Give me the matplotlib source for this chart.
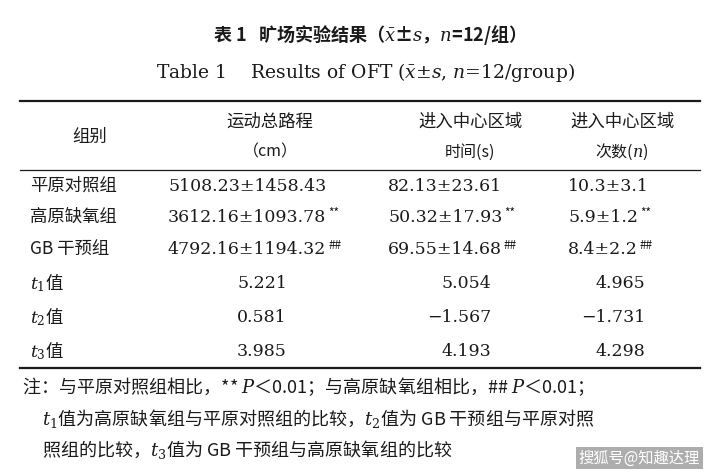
import matplotlib
matplotlib.use("Agg")
import matplotlib.pyplot as plt

plt.rcParams['font.family'] = ['Noto Sans CJK SC', 'DejaVu Sans']
plt.rcParams['mathtext.fontset'] = 'dejavuserif'

title_cn = "表 1   旷场实验结果（$\\bar{x}$±$s$，$n$=12/组）"
title_en = "Table 1    Results of OFT ($\\bar{x}$±$s$, $n$=12/group)"
headers_top = ["组别", "运动总路程", "进入中心区域", "进入中心区域"]
headers_bot = ["", "（cm）", "时间(s)", "次数($n$)"]
row_labels = ["平原对照组", "高原缺氧组", "GB 干预组", "$t_1$值", "$t_2$值", "$t_3$值"]
dist = ["5108.23±1458.43", "3612.16±1093.78", "4792.16±1194.32", "5.221", "0.581", "3.985"]
time_ = ["82.13±23.61", "50.32±17.93", "69.55±14.68", "5.054", "−1.567", "4.193"]
count = ["10.3±3.1", "5.9±1.2", "8.4±2.2", "4.965", "−1.731", "4.298"]
marks = ["", "**", "##", "", "", ""]
notes = ["注：与平原对照组相比，** $P$＜0.01；与高原缺氧组相比，## $P$＜0.01；",
         "$t_1$值为高原缺氧组与平原对照组的比较，$t_2$值为 GB 干预组与平原对照",
         "照组的比较，$t_3$值为 GB 干预组与高原缺氧组的比较"]

fig = plt.figure(figsize=(7.2, 4.73), dpi=100)
ax = fig.add_axes([0, 0, 1, 1])
ax.set_xlim(0, 720); ax.set_ylim(473, 0); ax.axis('off')
c = '#1a1a1a'
ax.text(365, 35, title_cn, ha='center', va='center', fontsize=13, weight='bold', color=c)
ax.text(365, 73, title_en, ha='center', va='center', fontsize=13.5, color=c, family=['DejaVu Serif'])
ax.plot([20, 700], [101, 101], color=c, lw=1.6)
ax.plot([20, 700], [170, 170], color=c, lw=0.9)
ax.plot([20, 700], [368, 368], color=c, lw=1.6)
cx = [90, 270, 470, 622]
for i in range(4):
    if headers_bot[i]:
        ax.text(cx[i], 122, headers_top[i], ha='center', va='center', fontsize=12.5, color=c)
        ax.text(cx[i], 152, headers_bot[i], ha='center', va='center', fontsize=11.5, color=c)
    else:
        ax.text(cx[i], 137, headers_top[i], ha='center', va='center', fontsize=12.5, color=c)
ys = [186, 217, 249, 283, 317, 351]
fig.canvas.draw()
for i, y in enumerate(ys):
    ax.text(30, y, row_labels[i], ha='left', va='center', fontsize=12.5, color=c)
    stat = i >= 3
    for x0, xs, v in [(168, 262, dist[i]), (388, 466, time_[i]), (568, 620, count[i])]:
        if stat:
            ax.text(xs + 25, y, v, ha='right', va='center', fontsize=12.5, color=c, family=['DejaVu Serif'])
        else:
            t = ax.text(x0, y, v, ha='left', va='center', fontsize=12.5, color=c, family=['DejaVu Serif'])
            if marks[i]:
                bb = t.get_window_extent(renderer=fig.canvas.get_renderer())
                xe = ax.transData.inverted().transform((bb.x1, 0))[0]
                ax.text(xe + 2, y - 4, marks[i], ha='left', va='center', fontsize=8.5, color=c)
ax.text(22, 387, notes[0], ha='left', va='center', fontsize=13, color=c)
ax.text(42, 418, notes[1], ha='left', va='center', fontsize=13, color=c)
ax.text(42, 449, notes[2], ha='left', va='center', fontsize=13, color=c)
ax.text(700, 458, "搜狐号@知趣达理", ha='right', va='center', fontsize=11, color='white',
        bbox=dict(facecolor='#777777', edgecolor='none', alpha=0.6, pad=2))
fig.savefig("out.png", dpi=100)
